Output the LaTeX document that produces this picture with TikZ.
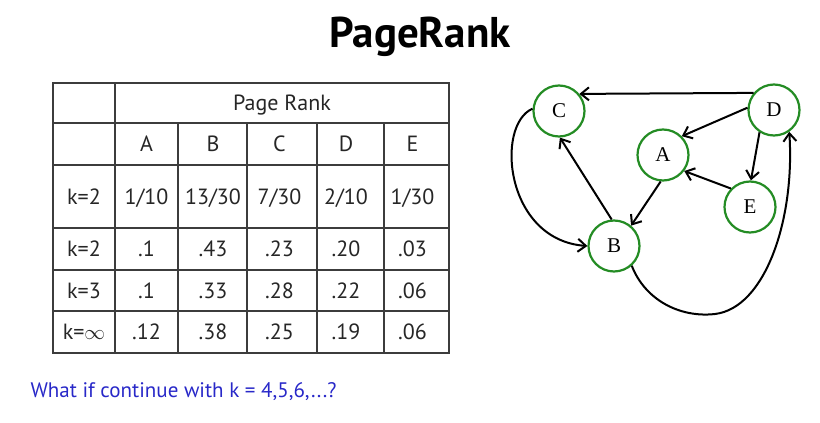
\documentclass[tikz,border=0pt]{standalone}
\usepackage{fontspec}
\setsansfont{PT Sans}
\newfontfamily\graphfont{Liberation Serif}
\usepackage{tikz}
\usetikzlibrary{positioning, calc, arrows.meta}
\definecolor{nodegreen}{RGB}{36,140,36}
\definecolor{askblue}{RGB}{40,40,200}
\definecolor{gridgray}{RGB}{60,60,60}

\tikzset{
  page/.style={circle, draw=nodegreen, line width=2.2pt, minimum size=51pt, inner sep=0pt,
    font=\graphfont\fontsize{21}{21}\selectfont},
  link/.style={-{Straight Barb[length=8pt,width=13pt]}, line width=2pt},
  grid/.style={gridgray, line width=1.3pt},
  cell/.style={anchor=base, inner sep=0pt, text=black!85, font=\sffamily\fontsize{22}{22}\selectfont}
}

\begin{document}
\begin{tikzpicture}[x=1pt,y=-1pt]
      \useasboundingbox (0,0) rectangle (820,423);
      \node[font=\sffamily\bfseries\fontsize{43}{43}\selectfont, anchor=base] (title) at (420,47) {PageRank};

      % table
      \draw[grid] (53,83) rectangle (449,353);
      \foreach \y in {123,165,228,270,311} \draw[grid] (53,\y) -- (449,\y);
      \draw[grid] (115,83) -- (115,353);
      \foreach \x in {178,247,317,384} \draw[grid] (\x,123) -- (\x,353);
      \node[cell] (head) at (282,110) {Page Rank};
      \foreach \t [count=\i] in {A,B,C,D,E}
        \node[cell] (col\i) at ({80+66.5*\i},151.5) {\t};
      \node[cell] (k1) at (84,204) {k=2};
      \foreach \t [count=\i] in {1/10,13/30,7/30,2/10,1/30}
        \node[cell] (ra\i) at ({80+66.5*\i},204) {\t};
      \node[cell] (k2) at (84,256.5) {k=2};
      \foreach \t [count=\i] in {.1,.43,.23,.20,.03}
        \node[cell] (rb\i) at ({80+66.5*\i},256.5) {\t};
      \node[cell] (k3) at (84,298) {k=3};
      \foreach \t [count=\i] in {.1,.33,.28,.22,.06}
        \node[cell] (rc\i) at ({80+66.5*\i},298) {\t};
      \node[cell] (k4) at (84,339.5) {k=$\infty$};
      \foreach \t [count=\i] in {.12,.38,.25,.19,.06}
        \node[cell] (rd\i) at ({80+66.5*\i},339.5) {\t};

      \node[anchor=base west, text=askblue, font=\sffamily\fontsize{21}{21}\selectfont] (ask) at (27,397)
        {What if continue with k = 4,5,6,...?};

      % graph
      \node[page] (C) at (559,111) {C};
      \node[page] (D) at (774,110) {D};
      \node[page] (A) at (663,155) {A};
      \node[page] (E) at (750,207) {E};
      \node[page] (B) at (614,246) {B};
      \draw[link] (D.140) -- (C.40);
      \draw[link] (D.175) -- (A.45);
      \draw[link] (D.237) -- (E.88);
      \draw[link] (E.136) -- (A.323);
      \draw[link] (A.265) -- (B.50);
      \draw[link] (B.95) -- (C.272);
      \draw[link] (C.175) .. controls (495,125) and (505,240) .. (B.180);
      \draw[link] (B.312) .. controls (645,300) and (680,318) .. (715,314)
        .. controls (765,308) and (795,220) .. (D.305);
\end{tikzpicture}
\end{document}
